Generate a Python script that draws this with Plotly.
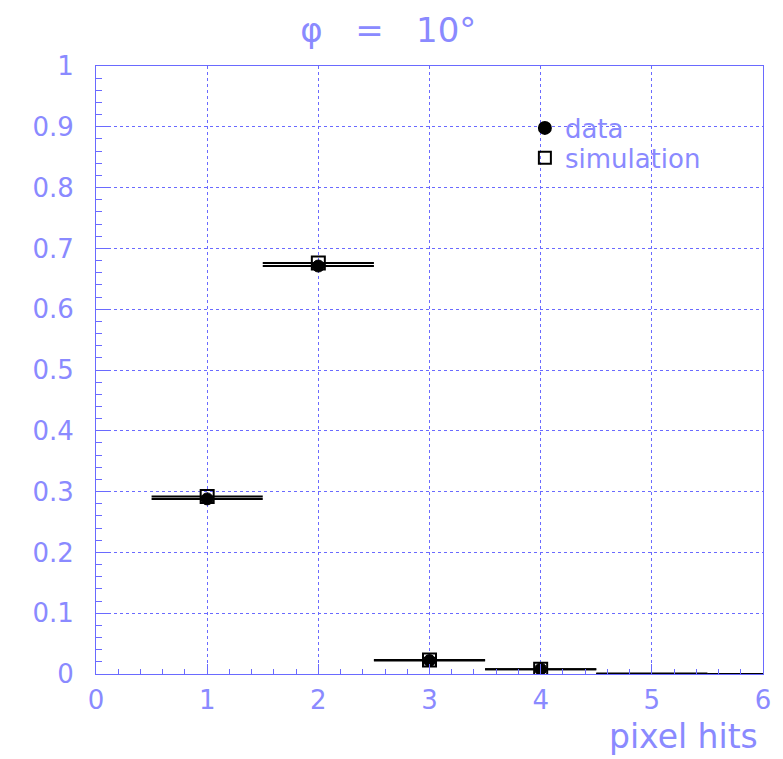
import plotly.graph_objects as go

# Fraction of clusters by number of pixel hits
pixel_hits = [1, 2, 3, 4, 5, 6]
data_frac = [0.288, 0.671, 0.022, 0.008, 0.0, 0.0]
sim_frac = [0.292, 0.676, 0.023, 0.008, 0.001, 0.0]
bin_half_width = 0.5

x_ticks = [0, 1, 2, 3, 4, 5, 6]
y_ticks = [0, 0.1, 0.2, 0.3, 0.4, 0.5, 0.6, 0.7, 0.8, 0.9, 1.0]
y_tick_text = ["0", "0.1", "0.2", "0.3", "0.4", "0.5", "0.6", "0.7", "0.8", "0.9", "1"]

BLUE_TEXT = "#8a8aff"
BLUE_LINE = "#6a6aff"
FONT = "DejaVu Sans"


def marker_sizes(values, size):
    # points sitting on the frame edge are not drawn, only their bin bar
    return [size if v > 0.0015 else 0 for v in values]


fig = go.Figure()

fig.add_trace(go.Scatter(
    x=pixel_hits, y=sim_frac, mode="markers", name="simulation",
    legend="legend2", showlegend=True,
    marker=dict(symbol="square-open", size=marker_sizes(sim_frac, 13), color="#000000",
                opacity=1, line=dict(width=2, color="#000000")),
    error_x=dict(type="constant", value=bin_half_width, color="black", thickness=2, width=0),
))
fig.add_trace(go.Scatter(
    x=pixel_hits, y=data_frac, mode="markers", name="data",
    legend="legend", showlegend=True,
    marker=dict(symbol="circle", size=marker_sizes(data_frac, 12), color="#000000",
                opacity=1, line=dict(width=1, color="#000000")),
    error_x=dict(type="constant", value=bin_half_width, color="black", thickness=2, width=0),
))

axis_common = dict(
    showline=True, linecolor=BLUE_LINE, linewidth=1, mirror=True,
    showgrid=True, gridcolor=BLUE_LINE, griddash="dot", gridwidth=1,
    zeroline=False, ticks="inside", tickcolor=BLUE_LINE,
    tickfont=dict(family=FONT, size=26, color=BLUE_TEXT),
)

fig.update_xaxes(
    range=[0, 6], tickvals=x_ticks, ticklen=10, ticklabelstandoff=3,
    minor=dict(dtick=0.2, ticklen=5, ticks="inside", tickcolor=BLUE_LINE, showgrid=False),
    **axis_common,
)
fig.update_yaxes(
    range=[0, 1], tickvals=y_ticks, ticktext=y_tick_text, ticklen=12, ticklabelstandoff=16,
    minor=dict(dtick=0.02, ticklen=6, ticks="inside", tickcolor=BLUE_LINE, showgrid=False),
    **axis_common,
)

legend_common = dict(
    x=0.643, xanchor="left", yanchor="middle", bgcolor="rgba(0,0,0,0)",
    borderwidth=0, itemsizing="constant",
    font=dict(family=FONT, size=26, color=BLUE_TEXT),
)

fig.update_layout(
    width=783, height=759,
    margin=dict(l=96, r=18, t=66, b=85),
    paper_bgcolor="white", plot_bgcolor="white",
    showlegend=True,
    title=dict(text="φ   =   10°", x=0.496, xref="container", xanchor="center",
               y=1 - 30 / 759, yref="container", yanchor="middle",
               font=dict(family=FONT, size=34, color=BLUE_TEXT)),
    legend=dict(y=0.898, **legend_common),
    legend2=dict(y=0.849, **legend_common),
    annotations=[dict(text="pixel hits", xref="paper", yref="paper",
                      x=0.995, xanchor="right", y=-0.102, yanchor="middle",
                      showarrow=False, font=dict(family=FONT, size=33, color=BLUE_TEXT))],
)

fig.write_html("out.html")
